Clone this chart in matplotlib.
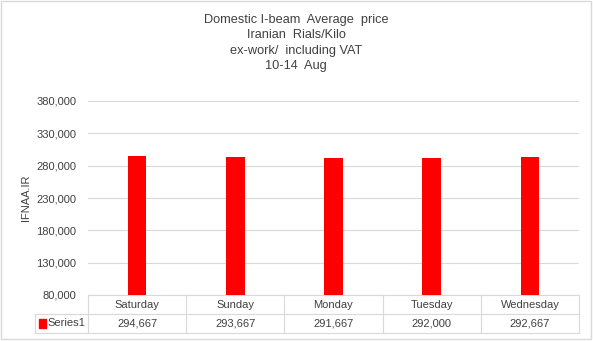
import matplotlib.pyplot as plt
from matplotlib.lines import Line2D
from matplotlib.patches import Rectangle

days = ["Saturday", "Sunday", "Monday", "Tuesday", "Wednesday"]
prices = [294667, 293667, 291667, 292000, 292667]
series_name = "Series1"
yticks = [80000, 130000, 180000, 230000, 280000, 330000, 380000]
title_lines = ["Domestic I-beam  Average  price", "Iranian  Rials/Kilo",
               "ex-work/  including VAT", "10-14  Aug"]

plt.rcParams["font.family"] = ["Liberation Sans", "DejaVu Sans"]
grid_c = "#d9d9d9"
text_c = "#404040"
W, H = 593, 341

fig = plt.figure(figsize=(W / 100, H / 100), dpi=100)
ax = fig.add_axes([88 / W, 1 - 295 / H, 491 / W, 194 / H])

x = list(range(len(days)))
ax.bar(x, prices, width=0.19, color="#ff0000", zorder=3)
ax.set_xlim(-0.5, len(days) - 0.5)
ax.set_ylim(yticks[0], yticks[-1])
ax.set_yticks(yticks)
ax.set_yticklabels([f"{v:,}" for v in yticks], fontsize=8, color=text_c)
ax.set_xticks([])
ax.tick_params(axis="y", length=0, pad=8.5)
ax.grid(axis="y", color=grid_c, linewidth=0.8, zorder=0)
for s in ax.spines.values():
    s.set_visible(False)
ax.set_ylabel("IFNAA.IR", fontsize=8, color=text_c, labelpad=4)

# data table under the plot
row1 = -19 / 194
row2 = -38 / 194
left = -53 / 491
tr = ax.transAxes
kw = dict(transform=tr, color=grid_c, linewidth=0.8, clip_on=False)
ax.add_line(Line2D([0, 1], [0, 0], **kw))
ax.add_line(Line2D([left, 1], [row1, row1], **kw))
ax.add_line(Line2D([left, 1], [row2, row2], **kw))
ax.add_line(Line2D([left, left], [row1, row2], **kw))
n = len(days)
for i in range(n + 1):
    ax.add_line(Line2D([i / n, i / n], [0, row2], **kw))
for i, (d, p) in enumerate(zip(days, prices)):
    cx = (i + 0.5) / n
    ax.text(cx, row1 / 2, d, transform=tr, ha="center", va="center",
            fontsize=8, color=text_c)
    ax.text(cx, (row1 + row2) / 2, f"{p:,}", transform=tr, ha="center",
            va="center", fontsize=8, color=text_c)
ax.add_patch(Rectangle((left + 0.008, (row1 + row2) / 2 - 0.022), 0.014, 0.044,
                       transform=tr, color="#ff0000", clip_on=False))
ax.text(left + 0.026, (row1 + row2) / 2, series_name, transform=tr,
        ha="left", va="center", fontsize=8, color=text_c)

# title
for k, line in enumerate(title_lines):
    fig.text(296 / W, 1 - (20 + k * 15.3) / H, line, ha="center", va="center",
             fontsize=9.2, color=text_c)

# outer border
fig.patches.append(Rectangle((0.002, 0.005), 0.995, 0.992, transform=fig.transFigure,
                             fill=False, edgecolor=grid_c, linewidth=1))

fig.savefig("out.png", dpi=100)
